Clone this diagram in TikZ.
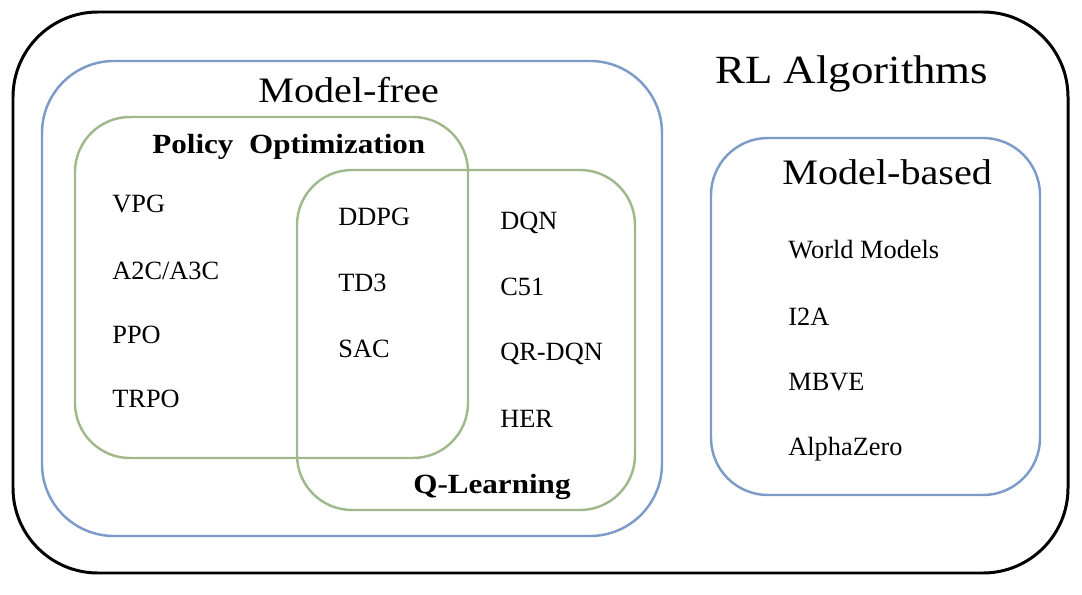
\documentclass[tikz,border=0pt]{standalone}
\usepackage{fontspec}
\setmainfont{Liberation Serif}
\newfontfamily\titlefont[FakeStretch=1.12]{Liberation Serif}
\usetikzlibrary{positioning}
\definecolor{outlineblue}{RGB}{125,155,200}
\definecolor{outlinegreen}{RGB}{160,185,140}
\tikzset{
  algo/.style={
    anchor=base west,
    inner sep=0pt,
    font=\fontsize{15}{18}\selectfont},
  grouptitle/.style={
    anchor=base west,
    inner sep=0pt,
    font=\titlefont\bfseries\fontsize{15.8}{19}\selectfont},
  classtitle/.style={
    anchor=base west,
    inner sep=0pt,
    font=\titlefont\fontsize{20.4}{24}\selectfont},
  classbox/.style={
    draw=outlineblue,
    line width=1.4pt},
  groupbox/.style={
    draw=outlinegreen,
    line width=1.4pt,
    rounded corners=1.1cm}
}

\begin{document}
\begin{tikzpicture}[x=0.02cm, y=-0.02cm]
  \useasboundingbox (0,0) rectangle (1082,595);

  % Outer frame
  \draw[line width=1.7pt, rounded corners=1.7cm] (13,12) rectangle (1068,573);
  \node (rl) [classtitle, font=\titlefont\fontsize{22.8}{27}\selectfont] at (715,83) {RL Algorithms};

  % Model-free
  \draw[classbox, rounded corners=1.44cm] (42,61) rectangle (662,536);
  \node (modelfree) [classtitle] at (258,102) {Model-free};

  % Policy Optimization
  \draw[groupbox] (75,117) rectangle (468,458);
  \node (policyopt) [grouptitle] at (152,153) {Policy\ \ Optimization};

  % Q-Learning
  \draw[groupbox] (297,170) rectangle (635,510);
  \node (qlearning) [grouptitle] at (413,493) {Q-Learning};

  % Model-based
  \draw[classbox, rounded corners=1.14cm] (711,138) rectangle (1040,495);
  \node (modelbased) [classtitle] at (782,184) {Model-based};

  % policy optimization only
  \node (vpg) [algo] at (112,212) {VPG};
  \node (a2c) [algo] at (112,279) {A2C/A3C};
  \node (ppo) [algo] at (112,343) {PPO};
  \node (trpo) [algo] at (112,407) {TRPO};

  % both
  \node (ddpg) [algo] at (338,225) {DDPG};
  \node (td3) [algo] at (338,291) {TD3};
  \node (sac) [algo] at (338,357) {SAC};

  % q-learning only
  \node (dqn) [algo] at (500,229) {DQN};
  \node (c51) [algo] at (500,295) {C51};
  \node (qrdqn) [algo] at (500,360) {QR-DQN};
  \node (her) [algo] at (500,427) {HER};

  % model-based
  \node (worldmodels) [algo] at (788,258) {World Models};
  \node (i2a) [algo] at (788,325) {I2A};
  \node (mbve) [algo] at (788,390) {MBVE};
  \node (alphazero) [algo] at (788,455) {AlphaZero};
\end{tikzpicture}
\end{document}
